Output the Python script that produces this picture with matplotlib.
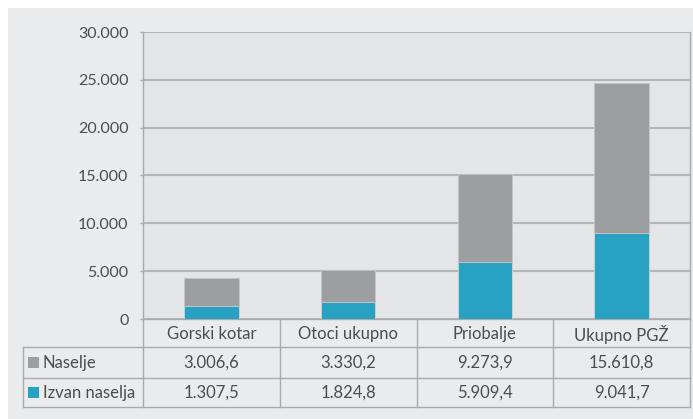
import matplotlib.pyplot as plt
from matplotlib.patches import Rectangle

categories = ["Gorski kotar", "Otoci ukupno", "Priobalje", "Ukupno PGŽ"]
naselje = [3006.6, 3330.2, 9273.9, 15610.8]
izvan = [1307.5, 1824.8, 5909.4, 9041.7]
naselje_txt = ["3.006,6", "3.330,2", "9.273,9", "15.610,8"]
izvan_txt = ["1.307,5", "1.824,8", "5.909,4", "9.041,7"]
yticks = [0, 5000, 10000, 15000, 20000, 25000, 30000]
ytick_labels = ["0", "5.000", "10.000", "15.000", "20.000", "25.000", "30.000"]

GRAY = "#9d9ea1"
TEAL = "#27a2c2"
LINE = "#a9aaac"
TXT = "#4d4d4d"

plt.rcParams["font.family"] = ["Lato", "DejaVu Sans"]

W, H = 693, 419
fig = plt.figure(figsize=(W / 100, H / 100), dpi=100)
fig.patch.set_facecolor("white")

def fx(px):
    return px / W

def fy(py):
    return 1 - py / H

# light grey panel
fig.patches.append(Rectangle((fx(8), 0), 1 - fx(8), fy(8), transform=fig.transFigure,
                             facecolor="#eaebed", edgecolor="none", zorder=-10))

left, right, top, zero = 143, 690, 32, 319
ax = fig.add_axes([fx(left), fy(zero), fx(right - left), (zero - top) / H])
ax.set_facecolor("#e4e5e7")
x = range(len(categories))
ax.bar(x, izvan, width=0.4, color=TEAL, edgecolor="#c9d5da", linewidth=0.6, zorder=3)
ax.bar(x, naselje, bottom=izvan, width=0.4, color=GRAY, edgecolor="#c4c5c7", linewidth=0.6, zorder=3)
ax.set_xlim(-0.5, 3.5)
ax.set_ylim(0, 30000)
ax.set_yticks(yticks)
ax.set_yticklabels(ytick_labels, fontsize=11.5, color=TXT)
ax.set_xticks([])
ax.tick_params(axis="y", length=2.5, width=1, color=LINE, pad=8)
ax.yaxis.grid(True, color="#b4b5b7", linewidth=1.5, zorder=1)
ax.set_axisbelow(True)
for s in ax.spines.values():
    s.set_color(LINE)
    s.set_linewidth(1)
ax.spines["top"].set_visible(False)

# data table below the chart
tl = 23
col_w = (right - left) / 4
rows = [319, 347, 378, 407]
tab = fig.add_axes([fx(tl), fy(rows[-1]), fx(right - tl), (rows[-1] - rows[0]) / H])
tab.set_xlim(tl, right)
tab.set_ylim(rows[-1], rows[0])
tab.axis("off")
tab.patch.set_alpha(0)

for i in range(5):
    xc = left + i * col_w
    tab.plot([xc, xc], [rows[0], rows[-1]], color=LINE, lw=1, clip_on=False)
tab.plot([tl, tl], [rows[1], rows[-1]], color=LINE, lw=1, clip_on=False)
for r in rows[1:]:
    tab.plot([tl, right], [r, r], color=LINE, lw=1, clip_on=False)

fs = 12
for i, c in enumerate(categories):
    xc = left + (i + 0.5) * col_w
    tab.text(xc, (rows[0] + rows[1]) / 2 + 1, c, ha="center", va="center", fontsize=fs, color=TXT)
    tab.text(xc, (rows[1] + rows[2]) / 2, naselje_txt[i], ha="center", va="center", fontsize=fs, color=TXT)
    tab.text(xc, (rows[2] + rows[3]) / 2, izvan_txt[i], ha="center", va="center", fontsize=fs, color=TXT)

for (r0, r1), col, lab in [((rows[1], rows[2]), GRAY, "Naselje"), ((rows[2], rows[3]), TEAL, "Izvan naselja")]:
    yc = (r0 + r1) / 2
    tab.add_patch(Rectangle((28, yc - 5.5), 11, 11, facecolor=col, edgecolor="none", clip_on=False))
    tab.text(43, yc, lab, ha="left", va="center", fontsize=fs, color=TXT)

fig.savefig("out.png", dpi=100)
